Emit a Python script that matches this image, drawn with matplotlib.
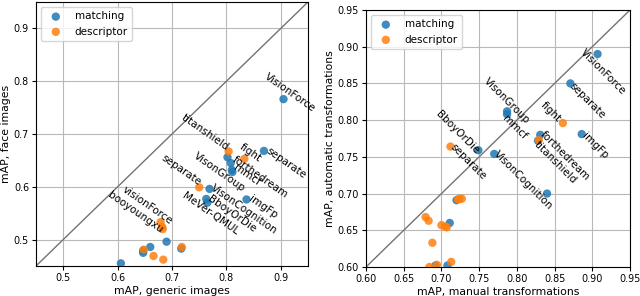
import matplotlib
matplotlib.use('Agg')
import matplotlib.pyplot as plt

# left panel: generic vs face images
left_match_x = [0.905, 0.869, 0.802, 0.808, 0.810, 0.811, 0.769, 0.763, 0.765, 0.837,
                0.690, 0.660, 0.647, 0.647, 0.606, 0.717]
left_match_y = [0.766, 0.668, 0.656, 0.645, 0.632, 0.628, 0.596, 0.577, 0.570, 0.576,
                0.496, 0.486, 0.479, 0.475, 0.455, 0.483]
left_desc_x = [0.804, 0.833, 0.750, 0.679, 0.682, 0.683, 0.648, 0.666, 0.684, 0.718]
left_desc_y = [0.667, 0.653, 0.599, 0.533, 0.524, 0.520, 0.481, 0.469, 0.462, 0.486]

left_labels = ['VisionForce', 'titanshield', 'fight', 'separate', 'forthedream', 'VisonGroup',
               'mmcf', 'separate', 'VisonCognition', 'BboyOrDie', 'MeVer-QMUL', 'imgFp',
               'visionForce', 'booyoungxu']
left_label_x = [0.917, 0.760, 0.845, 0.909, 0.863, 0.788, 0.838, 0.716, 0.833, 0.811,
                0.771, 0.867, 0.655, 0.633]
left_label_y = [0.779, 0.703, 0.665, 0.645, 0.619, 0.628, 0.623, 0.631, 0.558, 0.549,
                0.549, 0.562, 0.564, 0.551]

# right panel: manual vs automatic transformations
right_match_x = [0.907, 0.871, 0.787, 0.787, 0.886, 0.831, 0.828, 0.749, 0.770, 0.840,
                 0.720, 0.711, 0.692, 0.708]
right_match_y = [0.890, 0.850, 0.812, 0.808, 0.781, 0.780, 0.772, 0.759, 0.754, 0.700,
                 0.691, 0.660, 0.602, 0.602]
right_desc_x = [0.861, 0.829, 0.712, 0.722, 0.724, 0.727, 0.679, 0.683, 0.700, 0.705,
                0.707, 0.688, 0.694, 0.713, 0.684]
right_desc_y = [0.796, 0.773, 0.764, 0.692, 0.693, 0.693, 0.668, 0.663, 0.657, 0.655,
                0.654, 0.633, 0.603, 0.607, 0.600]

right_labels = ['VisionForce', 'separate', 'VisonGroup', 'mmcf', 'fight', 'imgFp',
                'forthedream', 'titanshield', 'BboyOrDie', 'separate', 'VisonCognition']
right_label_x = [0.914, 0.894, 0.787, 0.797, 0.845, 0.904, 0.864, 0.851, 0.721, 0.736, 0.809]
right_label_y = [0.865, 0.826, 0.826, 0.790, 0.811, 0.765, 0.751, 0.742, 0.783, 0.743, 0.718]

LABEL_FS = 7.8
TICK_FS = 6.9
NOTE_FS = 7.5

fig = plt.figure(figsize=(6.4, 2.96), dpi=100)
ax0 = fig.add_axes([36/640, 1-266/296, 272/640, 264/296])
ax1 = fig.add_axes([366/640, 1-267/296, 264/640, 257/296])


def draw_panel(ax, mx, my, dx, dy, labels, lx, ly, lim, rot, xlabel, ylabel):
    ax.grid(True, color='#b8b8b8', linewidth=0.8)
    ax.set_axisbelow(True)
    ax.plot(lim, lim, color='0.45', linewidth=1, zorder=1)
    ax.scatter(mx, my, s=36, color='C0', alpha=0.85, edgecolors='none', label='matching', zorder=3)
    ax.scatter(dx, dy, s=36, color='C1', alpha=0.85, edgecolors='none', label='descriptor', zorder=3)
    for t, x, y in zip(labels, lx, ly):
        ax.text(x, y, t, rotation=rot, ha='center', va='center', fontsize=NOTE_FS, zorder=4)
    ax.set_xlim(lim)
    ax.set_ylim(lim)
    ax.set_xlabel(xlabel, fontsize=LABEL_FS, labelpad=2)
    ax.set_ylabel(ylabel, fontsize=LABEL_FS, labelpad=2)
    ax.tick_params(length=3, pad=2, labelsize=TICK_FS)
    ax.legend(loc='upper left', fontsize=NOTE_FS)


draw_panel(ax0, left_match_x, left_match_y, left_desc_x, left_desc_y,
           left_labels, left_label_x, left_label_y, (0.45, 0.95), -35,
           'mAP, generic images', 'mAP, face images')
ax0.set_xticks([0.5, 0.6, 0.7, 0.8, 0.9])
ax0.set_yticks([0.5, 0.6, 0.7, 0.8, 0.9])

draw_panel(ax1, right_match_x, right_match_y, right_desc_x, right_desc_y,
           right_labels, right_label_x, right_label_y, (0.60, 0.95), -45,
           'mAP, manual transformations', 'mAP, automatic transformations')

plt.savefig('out.png', dpi=100)
